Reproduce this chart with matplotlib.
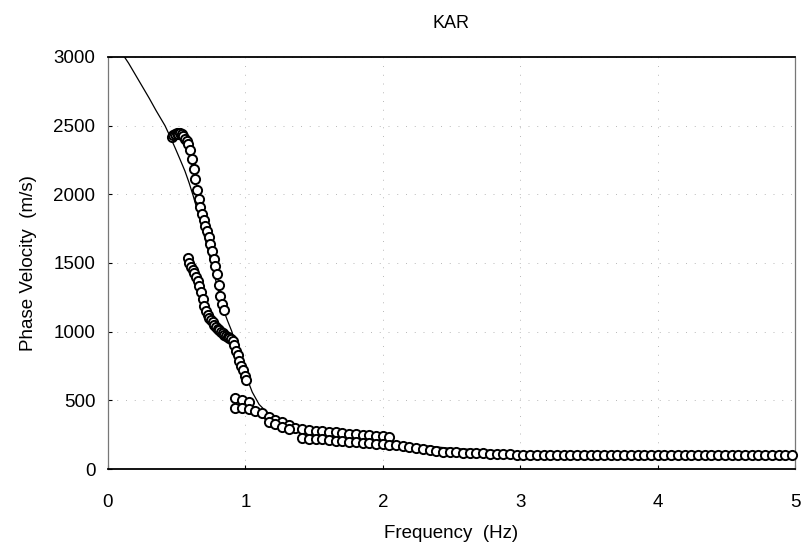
import matplotlib.pyplot as plt

# theoretical dispersion curve
curve_f = [0.12, 0.15, 0.2, 0.25, 0.3, 0.35, 0.415, 0.45, 0.49, 0.52, 0.56, 0.59, 0.62,
           0.66, 0.7, 0.74, 0.78, 0.81, 0.84, 0.87, 0.9, 0.95, 1.0, 1.05, 1.1, 1.15,
           1.2, 1.3, 1.4, 1.6, 1.8, 2.0, 2.2, 2.5, 3.0, 3.5, 4.0, 4.5, 5.0]
curve_v = [3000, 2955, 2870, 2785, 2700, 2610, 2500, 2425, 2335, 2265, 2170, 2085, 1990,
           1850, 1700, 1550, 1390, 1270, 1160, 1080, 1005, 850, 690, 560, 470, 420,
           385, 335, 300, 265, 235, 210, 180, 150, 125, 112, 106, 102, 100]

# observed phase velocities, branch by branch
upper_f = [0.464, 0.476, 0.488, 0.500, 0.513, 0.525, 0.537, 0.549, 0.562, 0.574, 0.586,
           0.598, 0.610, 0.623, 0.635, 0.647, 0.659, 0.671, 0.684, 0.696, 0.708, 0.720,
           0.732, 0.745, 0.757, 0.769, 0.781, 0.793, 0.806, 0.818, 0.830, 0.842]
upper_v = [2420, 2430, 2440, 2445, 2440, 2445, 2440, 2425, 2405, 2385, 2365,
           2320, 2255, 2185, 2110, 2035, 1965, 1905, 1855, 1810, 1770, 1730,
           1690, 1640, 1590, 1530, 1480, 1420, 1340, 1260, 1200, 1155]

lower_f = [0.580, 0.592, 0.604, 0.616, 0.628, 0.640, 0.652, 0.665, 0.677, 0.689, 0.701,
           0.713, 0.726, 0.738, 0.750, 0.762, 0.774, 0.787, 0.799, 0.811, 0.823, 0.835,
           0.848, 0.860, 0.872, 0.884, 0.896, 0.908, 0.920, 0.933, 0.945, 0.957, 0.969,
           0.981, 0.994, 1.006]
lower_v = [1540, 1500, 1470, 1450, 1430, 1400, 1370, 1330, 1290, 1240, 1190,
           1150, 1120, 1100, 1085, 1070, 1050, 1035, 1020, 1010, 1000, 990,
           975, 965, 960, 955, 950, 935, 900, 860, 830, 790, 750,
           720, 680, 650]

top_f = [0.925, 0.974, 1.023]
top_v = [517, 502, 488]

mid_f = [0.925, 0.974, 1.023, 1.072, 1.120, 1.169, 1.218, 1.267, 1.316, 1.364, 1.413,
         1.462, 1.511, 1.560, 1.608, 1.657, 1.706, 1.755, 1.804, 1.853, 1.901, 1.950,
         1.999, 2.048]
mid_v = [444, 444, 437, 422, 408, 379, 357, 342, 320, 300, 290,
         284, 278, 274, 270, 266, 262, 258, 255, 251, 247, 243,
         238, 234]

low_f = [1.169, 1.218, 1.267, 1.316, 1.413, 1.462, 1.511, 1.560, 1.608, 1.657, 1.706,
         1.755, 1.804, 1.853, 1.901, 1.950, 1.999, 2.048, 2.097, 2.145, 2.194, 2.243,
         2.292, 2.341, 2.389, 2.438, 2.487, 2.536, 2.585, 2.634, 2.682, 2.731, 2.780,
         2.829, 2.878, 2.926, 2.975, 3.024, 3.073, 3.122]
low_v = [342, 325, 306, 290, 224, 221, 218, 215, 211, 207, 203,
         199, 195, 191, 187, 183, 180, 176, 172, 165, 158, 151,
         145, 139, 133, 127, 123, 121, 119, 117, 116, 114, 112,
         110, 108, 106, 105, 104, 103, 102]

tail_f = [3.171, 3.220, 3.269, 3.318, 3.366, 3.415, 3.464, 3.513, 3.562, 3.610, 3.659,
          3.708, 3.757, 3.806, 3.854, 3.903, 3.952, 4.001, 4.050, 4.099, 4.147, 4.196,
          4.245, 4.294, 4.343, 4.391, 4.440, 4.489, 4.538, 4.587, 4.636, 4.684, 4.733,
          4.782, 4.831, 4.880, 4.929, 4.977]
tail_v = [102, 101, 101, 101, 101, 100, 100, 100, 100, 100, 100,
          100, 100, 99, 99, 99, 99, 99, 99, 99, 99, 99,
          99, 99, 99, 99, 99, 99, 99, 100, 100, 100, 100,
          100, 100, 100, 100, 101]

x_ticks = [0, 1, 2, 3, 4, 5]
y_ticks = [0, 500, 1000, 1500, 2000, 2500, 3000]


def main():
    plt.rcParams['font.family'] = ['Liberation Sans', 'DejaVu Sans']
    fig = plt.figure(figsize=(8.01, 5.49), dpi=100)
    ax = fig.add_axes([0.1348, 0.1457, 0.8577, 0.7505])

    ax.plot(curve_f, curve_v, color='black', lw=0.9, zorder=2)

    for f, v in [(upper_f, upper_v), (lower_f, lower_v), (top_f, top_v),
                 (mid_f, mid_v), (low_f, low_v), (tail_f, tail_v)]:
        ax.plot(f, v, 'o', ms=6.6, mfc='white', mec='black', mew=1.4,
                linestyle='none', zorder=3, clip_on=False)

    ax.set_xlim(0, 5)
    ax.set_ylim(0, 3000)
    ax.set_xticks(x_ticks)
    ax.set_yticks(y_ticks)
    ax.tick_params(direction='in', length=3, width=0.8, labelsize=13.5)
    ax.tick_params(axis='x', pad=18)
    ax.tick_params(axis='y', pad=9)

    ax.grid(True, color='#b8b8b8', linestyle=(0, (1, 8)), lw=0.7)
    ax.set_axisbelow(True)

    for side in ['top', 'bottom']:
        ax.spines[side].set_linewidth(1.3)
    for side in ['left', 'right']:
        ax.spines[side].set_color('#777777')
        ax.spines[side].set_linestyle((0, (1, 1)))
        ax.spines[side].set_linewidth(0.9)

    ax.set_title('KAR', fontsize=13, pad=21)
    ax.set_xlabel('Frequency  (Hz)', fontsize=13.5, labelpad=10)
    ax.set_ylabel('Phase Velocity  (m/s)', fontsize=13.5, labelpad=12)

    fig.savefig('out.png', dpi=100)


if __name__ == "__main__":
    main()
